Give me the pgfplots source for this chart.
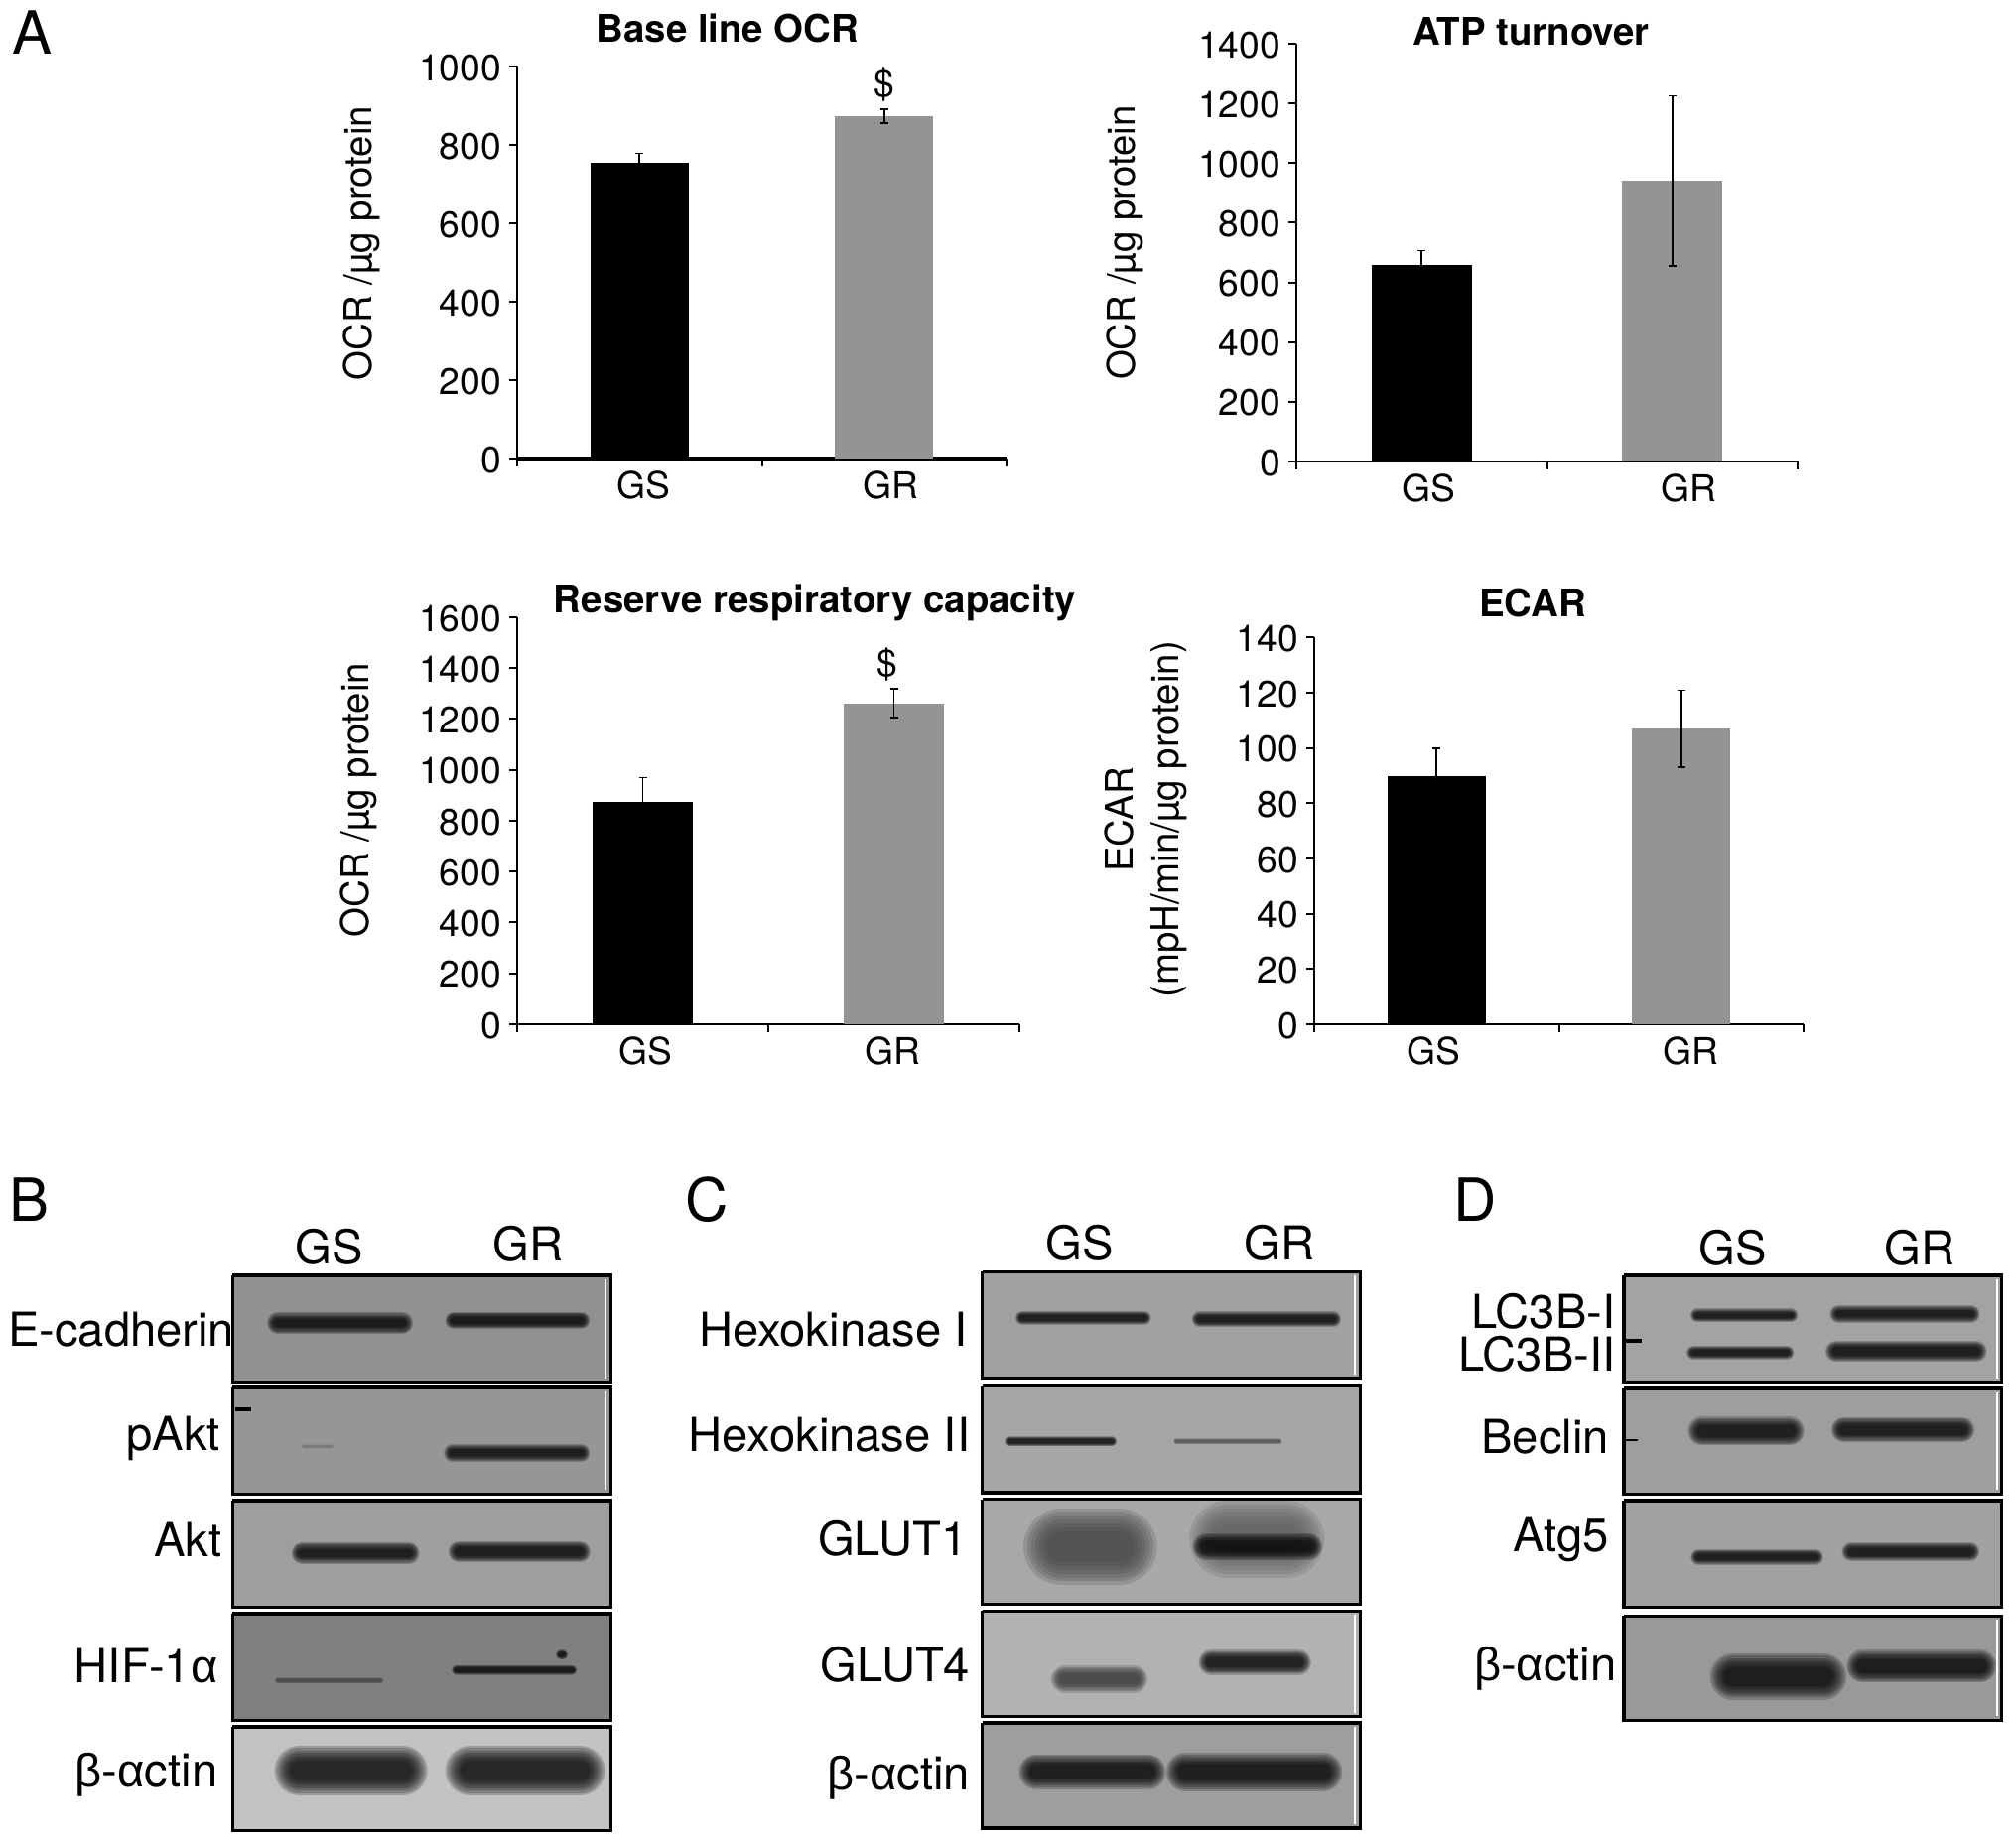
\documentclass[border=0pt]{standalone}
\usepackage{fontspec}
\setmainfont{TeX Gyre Heros}
\newfontfamily\greekf{Liberation Sans}
\usepackage{pgfplots}
\pgfplotsset{compat=1.18}

% 1 reference pixel, and 1 pixel of the shrunk 1568 view used for the blots
\newcommand{\px}{0.25pt}
\newcommand{\sh}{0.3238pt}
\newcommand{\tickfont}{\fontsize{9.3}{11}\selectfont}
\newcommand{\labfont}{\fontsize{9.6}{11.5}\selectfont}
\newcommand{\blotfont}{\fontsize{11.8}{13}\selectfont}

\pgfplotsset{
  panel/.style n args={4}{
    scale only axis,
    width={(#2-#1)*\px}, height={(#4-#3)*\px},
    at={({#1*\px},{(1859-#4)*\px})}, anchor=south west,
    axis lines=left, axis line style={-,line width=0.55pt},
    ybar, bar shift=0pt, bar width=0.4,
    xmin=-0.5, xmax=1.5, ymin=0,
    xtick={-0.5,0.5,1.5}, xticklabels={,,},
    tick align=outside, tick style={black,line width=0.5pt},
    major tick length=2pt,
    extra x tick style={major tick length=0pt},
    extra x tick labels={GS,GR},
    tick label style={font=\tickfont},
    /pgf/number format/assume math mode=true,
    /pgf/number format/1000 sep={},
    xticklabel style={yshift=0.3pt},
    yticklabel style={xshift=1.5pt,yshift=-0.3pt},
    label style={font=\labfont},
    every axis title shift=0pt,
    title style={font=\labfont\bfseries,anchor=center},
    ylabel style={anchor=center,align=center},
  },
  err/.style={error bars/.cd, y dir=both, y explicit,
    error bar style={black,line width=0.4pt},
    error mark options={rotate=90,black,mark size=1pt,line width=0.4pt}},
}

% blot helpers, all in view coordinates
\newcommand{\blotbg}[5]{\addplot[fill=#5,draw=none] coordinates {(#1,#3)(#2,#3)(#2,#4)(#1,#4)} -- cycle;}
\newcommand{\blotframe}[4]{\addplot[draw=black,line width=0.85pt] coordinates {(#1,#3)(#2,#3)(#2,#4)(#1,#4)(#1,#3)};}
\newcommand{\stripe}[3]{\addplot[white,line width=0.5pt] coordinates {(#1,#2)(#1,#3)};}
\newcommand{\layer}[5]{\addplot[#5,line cap=round,opacity=0.2,line width={#4*\sh}] coordinates {(#1,#3)(#2,#3)};}
\newcommand{\band}[5]{%
  \layer{#1}{#2}{#3}{#4*1.5}{#5}\layer{#1}{#2}{#3}{#4*1.35}{#5}%
  \layer{#1}{#2}{#3}{#4*1.2}{#5}\layer{#1}{#2}{#3}{#4*1.05}{#5}%
  \layer{#1}{#2}{#3}{#4*0.9}{#5}\layer{#1}{#2}{#3}{#4*0.75}{#5}%
  \layer{#1}{#2}{#3}{#4*0.6}{#5}%
}
\newcommand{\lbl}[3]{\node[anchor=mid east,font=\blotfont,inner sep=0pt,yshift={-4*\sh}] at (axis cs:#1,#2) {#3};}
\newcommand{\lane}[3]{\node[anchor=mid,font=\blotfont,inner sep=0pt,yshift={-4*\sh}] at (axis cs:#1,#2) {#3};}
\newcommand{\letter}[3]{\node[anchor=mid,font=\fontsize{15}{17}\selectfont,inner sep=0pt,yshift={-8*\sh}] at (axis cs:#1,#2) {#3};}

\begin{document}
\begin{tikzpicture}
\useasboundingbox (0,0) rectangle ({2031*\px},{1859*\px});

% ---- panels A-D letters and the blots ----
\begin{axis}[scale only axis,width={2031*\px},height={1859*\px},at={(0,0)},anchor=south west,
  hide axis,xmin=0,xmax=1568,ymin=0,ymax=1435,y dir=reverse]
\letter{25}{26}{A}
\letter{23}{934}{B}
\letter{550}{934}{C}
\letter{1147}{934}{D}

% B
\blotbg{181}{475}{992}{1075}{black!43}
\blotbg{181}{475}{1079}{1162}{black!41}
\blotbg{181}{475}{1167}{1250}{black!38}
\blotbg{181}{475}{1255}{1338}{black!50}
\blotbg{181}{475}{1343}{1424}{black!24}
\band{216}{313}{1029}{11}{black}
\band{353}{452}{1027}{9}{black}
\band{236}{258}{1125}{2}{black!55}
\band{352}{452}{1130}{9}{black}
\band{235}{318}{1208}{11}{black}
\band{357}{451}{1207}{11}{black}
\band{216}{296}{1307}{3}{black!75}
\band{355}{445}{1299}{5}{black}
\band{436}{438}{1287}{5}{black}
\band{233}{313}{1377}{26}{black}
\band{366}{451}{1377}{26}{black}
\addplot[black,line width=1pt] coordinates {(183,1096)(195,1096)};
\blotframe{181}{475}{992}{1075}
\blotframe{181}{475}{1079}{1162}
\blotframe{181}{475}{1167}{1250}
\blotframe{181}{475}{1255}{1338}
\blotframe{181}{475}{1343}{1424}
\stripe{471}{995}{1072}
\stripe{471}{1082}{1159}
\lbl{183}{1035}{E-cadherin}
\lbl{172}{1116}{pAkt}
\lbl{173}{1199}{Akt}
\lbl{170}{1297}{HIF-1{\greekf α}}
\lbl{170}{1378}{{\greekf β}-{\greekf α}ctin}
\lane{256}{971}{GS}
\lane{411}{969}{GR}

% C
\blotbg{764}{1058}{989}{1072}{black!37}
\blotbg{764}{1058}{1078}{1161}{black!35}
\blotbg{764}{1058}{1166}{1248}{black!34}
\blotbg{764}{1058}{1253}{1335}{black!30}
\blotbg{764}{1058}{1340}{1422}{black!38}
\band{795}{890}{1025}{7}{black}
\band{933}{1037}{1026}{8}{black}
\band{785}{865}{1121}{5}{black}
\band{915}{995}{1121}{3}{black!70}
\band{826}{870}{1203}{40}{black!75}
\band{955}{1000}{1197}{40}{black!65}
\band{938}{1018}{1203}{14}{black}
\band{828}{882}{1306}{14}{black!80}
\band{942}{1010}{1293}{13}{black}
\band{806}{893}{1378}{18}{black}
\band{922}{1029}{1378}{20}{black}
\blotframe{764}{1058}{989}{1072}
\blotframe{764}{1058}{1078}{1161}
\blotframe{764}{1058}{1166}{1248}
\blotframe{764}{1058}{1253}{1335}
\blotframe{764}{1058}{1340}{1422}
\stripe{1054}{992}{1069}
\stripe{1054}{1256}{1332}
\stripe{1054}{1343}{1419}
\lbl{753}{1035}{Hexokinase I}
\lbl{755}{1117}{Hexokinase II}
\lbl{753}{1198}{GLUT1}
\lbl{755}{1296}{GLUT4}
\lbl{755}{1380}{{\greekf β}-{\greekf α}ctin}
\lane{840}{968}{GS}
\lane{995}{968}{GR}

% D
\blotbg{1263}{1557}{992}{1075}{black!36}
\blotbg{1263}{1557}{1080}{1162}{black!38}
\blotbg{1263}{1557}{1167}{1250}{black!37}
\blotbg{1263}{1557}{1257}{1338}{black!40}
\band{1320}{1393}{1023}{7}{black}
\band{1430}{1533}{1022}{9}{black}
\band{1317}{1390}{1052}{7}{black}
\band{1428}{1537}{1051}{11}{black}
\band{1324}{1392}{1113}{15}{black}
\band{1434}{1526}{1112}{13}{black}
\band{1321}{1412}{1211}{8}{black}
\band{1440}{1532}{1207}{10}{black}
\band{1348}{1418}{1304}{24}{black}
\band{1449}{1540}{1296}{17}{black}
\addplot[black,line width=1pt] coordinates {(1264,1043)(1277,1043)};
\addplot[black,line width=0.7pt] coordinates {(1264,1120)(1274,1120)};
\blotframe{1263}{1557}{992}{1075}
\blotframe{1263}{1557}{1080}{1162}
\blotframe{1263}{1557}{1167}{1250}
\blotframe{1263}{1557}{1257}{1338}
\stripe{1553}{995}{1072}
\stripe{1553}{1083}{1159}
\stripe{1553}{1260}{1335}
\lbl{1257}{1021}{LC3B-I}
\lbl{1257}{1054}{LC3B-II}
\lbl{1252}{1118}{Beclin}
\lbl{1252}{1195}{Atg5}
\lbl{1258}{1295}{{\greekf β}-{\greekf α}ctin}
\lane{1348}{972}{GS}
\lane{1493}{972}{GR}
\end{axis}

% ---- bar charts ----
\begin{axis}[panel={521}{1014}{67}{462},ymax=1000,ytick distance=200,
  x axis line style={line width=1.1pt},
  extra x ticks={0.016,1.026},
  title={Base line OCR},title style={at={(axis description cs:0.43,1.097)}},
  ylabel={OCR /µg protein},ylabel style={at={(axis description cs:-0.317,0.549)}}]
\addplot[fill=black,draw=none,err] coordinates {(0,755) +- (0,23)};
\addplot[fill=black!42,draw=none,err] coordinates {(1,873) +- (0,18)};
\node[font=\tickfont] at (axis cs:1,953) {\$};
\end{axis}

\begin{axis}[panel={1306}{1811}{44}{465},ymax=1400,ytick distance=200,
  extra x ticks={0.03,1.065},
  title={ATP turnover},title style={at={(axis description cs:0.468,1.029)}},
  ylabel={OCR /µg protein},ylabel style={at={(axis description cs:-0.342,0.523)}}]
\addplot[fill=black,draw=none,err] coordinates {(0,657) +- (0,50)};
\addplot[fill=black!42,draw=none,err] coordinates {(1,940) +- (0,285)};
\end{axis}

\begin{axis}[panel={521}{1027}{622}{1032},ymax=1600,ytick distance=200,
  extra x ticks={0.013,0.995},
  title={Reserve respiratory capacity},title style={at={(axis description cs:0.593,1.035)}},
  ylabel={OCR /µg protein},ylabel style={at={(axis description cs:-0.315,0.551)}}]
\addplot[fill=black,draw=none,err] coordinates {(0,873) +- (0,96)};
\addplot[fill=black!42,draw=none,err] coordinates {(1,1262) +- (0,56)};
\node[font=\tickfont] at (axis cs:0.974,1413) {\$};
\end{axis}

\begin{axis}[panel={1324}{1817}{642.5}{1032},ymax=140,ytick distance=20,
  extra x ticks={-0.01,1.04},
  title={ECAR},title style={at={(axis description cs:0.446,1.09)}},
  ylabel={ECAR\\(mpH/min/µg protein)},ylabel style={at={(axis description cs:-0.345,0.529)}}]
\addplot[fill=black,draw=none,err] coordinates {(0,90) +- (0,10)};
\addplot[fill=black!42,draw=none,err] coordinates {(1,107) +- (0,14)};
\end{axis}
\end{tikzpicture}
\end{document}
